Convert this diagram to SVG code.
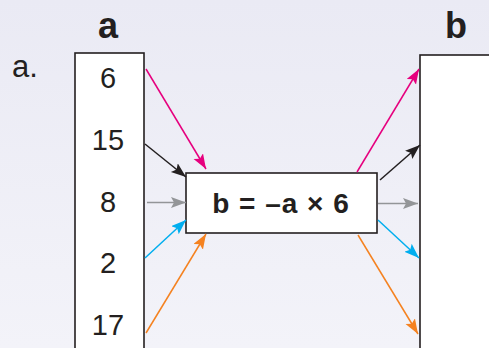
<svg xmlns="http://www.w3.org/2000/svg" width="489" height="348" viewBox="0 0 489 348">
<style>
.box{fill:#fff;stroke:#231f20;stroke-width:1.6}
.num{font-family:"Liberation Sans",Arial,sans-serif;font-size:29px;fill:#231f20;text-anchor:middle}
.hdr{font-family:"Liberation Sans",Arial,sans-serif;font-size:36px;font-weight:bold;fill:#231f20;text-anchor:middle}
.eq{font-family:"Liberation Sans",Arial,sans-serif;font-size:28px;font-weight:bold;fill:#231f20;text-anchor:middle;letter-spacing:1px}
.ln{fill:none;stroke-width:1.5}
</style>
<defs>
<linearGradient id="bg" x1="0" y1="0" x2="0" y2="1">
<stop offset="0" stop-color="#eaeaf4"/>
<stop offset="1" stop-color="#f3f3f9"/>
</linearGradient>
<marker id="mP" markerUnits="userSpaceOnUse" markerWidth="16" markerHeight="12" refX="15" refY="5.5" orient="auto"><path d="M0,0 L15,5.5 L0,11 L3,5.5 z" fill="#e6007e"/></marker>
<marker id="mK" markerUnits="userSpaceOnUse" markerWidth="16" markerHeight="12" refX="15" refY="5.5" orient="auto"><path d="M0,0 L15,5.5 L0,11 L3,5.5 z" fill="#231f20"/></marker>
<marker id="mG" markerUnits="userSpaceOnUse" markerWidth="16" markerHeight="12" refX="15" refY="5.5" orient="auto"><path d="M0,0 L15,5.5 L0,11 L3,5.5 z" fill="#939598"/></marker>
<marker id="mC" markerUnits="userSpaceOnUse" markerWidth="16" markerHeight="12" refX="15" refY="5.5" orient="auto"><path d="M0,0 L15,5.5 L0,11 L3,5.5 z" fill="#00aeef"/></marker>
<marker id="mO" markerUnits="userSpaceOnUse" markerWidth="16" markerHeight="12" refX="15" refY="5.5" orient="auto"><path d="M0,0 L15,5.5 L0,11 L3,5.5 z" fill="#f58220"/></marker>
</defs>
<rect x="0" y="0" width="489" height="348" fill="url(#bg)"/>
<text x="25" y="77" class="num" style="font-size:31px">a.</text>
<g id="colA">
<text x="108" y="38" class="hdr">a</text>
<rect class="box" x="75" y="53" width="69" height="300"/>
<text x="108" y="88" class="num">6</text>
<text x="108" y="150" class="num">15</text>
<text x="108" y="212" class="num">8</text>
<text x="108" y="273" class="num">2</text>
<text x="108" y="335" class="num">17</text>
</g>
<g id="colB">
<text x="456" y="38" class="hdr">b</text>
<rect class="box" x="420" y="55" width="75" height="300"/>
</g>
<g id="rule">
<rect class="box" x="186" y="173" width="191" height="60"/>
<text x="281" y="213" class="eq">b = –a × 6</text>
</g>
<g id="connectors">
<line class="ln" stroke="#e6007e" marker-end="url(#mP)" x1="146" y1="69" x2="206" y2="169"/>
<line class="ln" stroke="#231f20" marker-end="url(#mK)" x1="145" y1="144" x2="186" y2="177"/>
<line class="ln" stroke="#939598" marker-end="url(#mG)" x1="147" y1="202.5" x2="186" y2="202.5"/>
<line class="ln" stroke="#00aeef" marker-end="url(#mC)" x1="145" y1="258" x2="186" y2="220"/>
<line class="ln" stroke="#f58220" marker-end="url(#mO)" x1="146" y1="333" x2="206" y2="234"/>
<line class="ln" stroke="#e6007e" marker-end="url(#mP)" x1="357" y1="172" x2="419" y2="69"/>
<line class="ln" stroke="#231f20" marker-end="url(#mK)" x1="380" y1="180" x2="420" y2="145"/>
<line class="ln" stroke="#939598" marker-end="url(#mG)" x1="378" y1="203.5" x2="418" y2="203.5"/>
<line class="ln" stroke="#00aeef" marker-end="url(#mC)" x1="378" y1="220" x2="419" y2="258"/>
<line class="ln" stroke="#f58220" marker-end="url(#mO)" x1="358" y1="235" x2="418" y2="334"/>
</g>
</svg>
